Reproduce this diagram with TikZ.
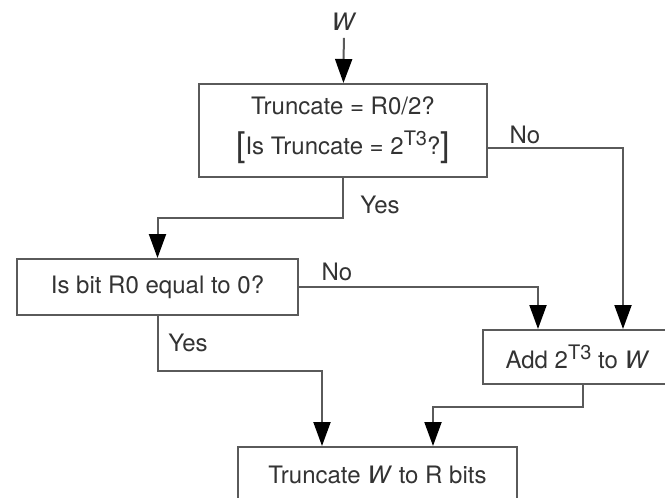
\documentclass[tikz,border=0pt]{standalone}
\usepackage{fontspec}
\setmainfont{TeX Gyre Heros}
\usepackage{xcolor}
\usetikzlibrary{positioning, arrows.meta}

\definecolor{linegray}{HTML}{5A5A5A}
\definecolor{textgray}{HTML}{333333}
\newcommand{\expo}[1]{\raisebox{4.5pt}{\fontsize{10}{10}\selectfont #1}}
\newcommand{\bigbr}[1]{\raisebox{-1pt}{\fontsize{17}{17}\selectfont #1}}

\tikzset{
  flowbox/.style={draw=linegray, line width=1pt, rectangle, inner sep=0pt, align=center,
    text=textgray, font=\fontsize{12}{20}\selectfont},
  flowlbl/.style={text=textgray, font=\fontsize{12}{14}\selectfont},
  flowarr/.style={draw=linegray, line width=1pt, -{Triangle[length=12pt, width=8.5pt, color=black]}}
}

\begin{document}
\begin{tikzpicture}[x=0.5pt, y=-0.5pt]
\useasboundingbox (0,0) rectangle (665,498);
\clip (0,0) rectangle (665,498);
\fill[white] (0,0) rectangle (665,498);
% boxes
\node[flowlbl] (w) at (344,22) {\textit{W}};
\node[flowbox, minimum width=144pt, minimum height=46.5pt] (trunc) at (343,130.5)
  {Truncate = R0/2?\\\bigbr{[}Is Truncate = 2\expo{T3}?\bigbr{]}};
\node[flowbox, minimum width=140.5pt, minimum height=28pt] (isbit) at (157.5,287) {Is bit R0 equal to 0?};
\node[flowbox, minimum width=94.5pt, minimum height=27pt] (add) at (577.5,357) {Add 2\expo{T3} to \textit{W}};
\node[flowbox, minimum width=139.5pt, minimum height=36pt, text depth=0pt] (final) at (377.5,483)
  {\raisebox{8pt}{Truncate \textit{W} to R bits}};
% labels
\node[flowlbl] (no1) at (525,135) {No};
\node[flowlbl] (yes1) at (380,205) {Yes};
\node[flowlbl] (no2) at (337,272) {No};
\node[flowlbl] (yes2) at (188,343) {Yes};
% connectors
\draw[flowarr] (w) -- (trunc);
\draw[flowarr] ([yshift=-8.75pt]trunc.east) -| ([xshift=22.75pt]add.north);
\draw[flowarr] (trunc.south) -- ++(0,40) -| (isbit.north);
\draw[flowarr] (isbit.east) -| ([xshift=-19.75pt]add.north);
\draw[flowarr] (isbit.south) -- ++(0,55) -| ([xshift=-27.75pt]final.north);
\draw[flowarr] ([xshift=2.75pt]add.south) -- ++(0,22) -| ([xshift=27.75pt]final.north);
\end{tikzpicture}
\end{document}
